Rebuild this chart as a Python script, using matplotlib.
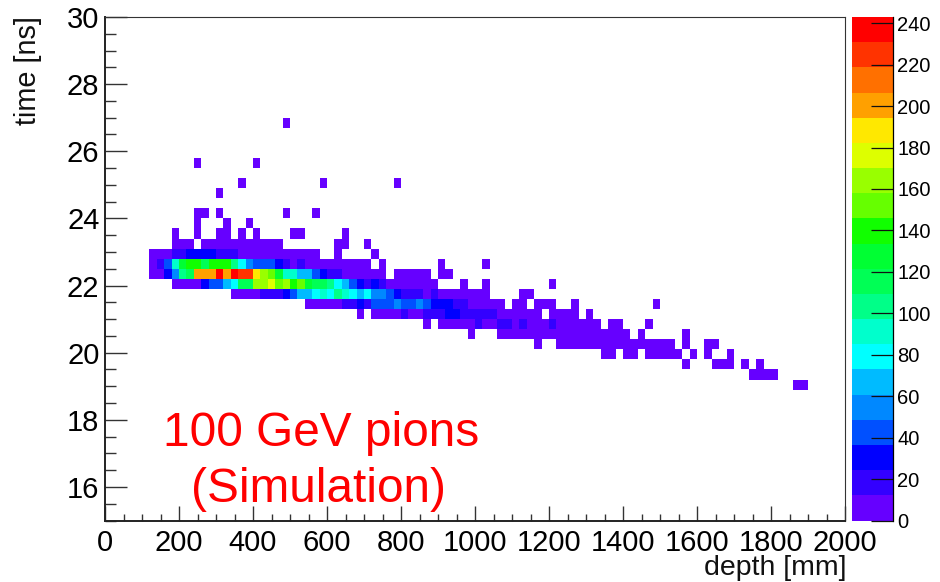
import matplotlib
matplotlib.use('Agg')
import matplotlib.pyplot as plt
from matplotlib.colors import BoundaryNorm, ListedColormap
from matplotlib.ticker import MultipleLocator
import numpy as np

plt.rcParams['font.family'] = ['Liberation Sans', 'DejaVu Sans']

# histogram binning: 100 depth bins, 50 time bins
depth_edges = np.linspace(0, 2000, 101)
time_edges = np.linspace(15, 30, 51)

# counts per time row, first entry sits in depth bin first_XX
first_13 = 93
row_13 = [6, 6]
first_14 = 87
row_14 = [6, 6, 6, 6]
first_15 = 78
row_15 = [6, 0, 0, 0, 6, 6, 6, 0, 6, 0, 6]
first_16 = 67
row_16 = [6, 6, 0, 6, 6, 0, 6, 6, 6, 6, 6, 0, 6, 0, 6, 0, 0, 6]
first_17 = 58
row_17 = [6, 0, 0] + [6] * 16 + [0, 6, 0, 0, 6, 6]
first_18 = 49
row_18 = [6, 0, 0, 0] + [6] * 18 + [0, 6, 0, 0, 0, 0, 0, 6]
first_19 = 43
row_19 = [6, 0, 6, 6, 6, 6, 6, 18, 6, 6, 18, 18, 6, 18, 6, 6, 6, 18,
          6, 6, 6, 6, 6, 6, 0, 6, 6, 0, 0, 0, 6]
first_20 = 34
row_20 = [6, 0, 6, 6, 6, 6, 18, 6, 6, 18, 18, 18, 30, 30, 18, 18, 18, 18, 18,
          6, 6, 6, 6, 6, 6, 0, 6, 6, 6, 6, 0, 6]
first_21 = 27
row_21 = [6, 6, 6, 6, 6, 18, 18, 30, 18, 42, 42, 42, 55, 42, 42, 55, 42, 30, 30, 30,
          18, 18, 6, 6, 6, 6, 6, 0, 6, 6, 0, 6, 6, 6, 0, 0, 6] + [0] * 10 + [6]
first_22 = 17
row_22 = [6, 6, 6, 6, 18, 18, 18, 30, 42, 67, 67, 79, 91, 79, 103, 91, 79, 67, 79,
          55, 55, 42, 30, 18, 18, 18, 6, 18] + [6] * 7 + [0, 0, 0, 0, 6, 6]
first_23 = 9
row_23 = [6, 6, 6, 6, 30, 42, 42, 67, 79, 115, 115, 164, 164, 176, 152, 164, 140, 152,
          127, 115, 115, 103, 79, 67, 42, 30, 18, 30, 18] + [6] * 7 + [0, 0, 0, 6, 0, 0, 6] + [0] * 8 + [6]
first_24 = 6
row_24 = [6, 6, 30, 55, 103, 115, 200, 200, 200, 237, 200, 237, 225, 225, 188, 164, 152, 127,
          91, 91, 67, 67, 42, 30, 18, 18] + [6] * 6 + [0] + [6] * 5 + [0, 6, 6]
first_25 = 6
row_25 = [6, 18, 42, 91, 127, 140, 140, 115, 140, 140, 140, 103, 79, 55, 42, 42, 42, 30, 18, 6, 18] \
    + [6] * 9 + [0, 6] + [0] * 7 + [6, 0, 0, 0, 0, 0, 6]
first_26 = 6
row_26 = [6, 6, 6, 18, 18, 30, 30, 30, 30, 18, 18, 18] + [6] * 11 + [0, 0, 6, 0, 0, 0, 0, 6]
first_27 = 9
row_27 = [6, 6, 6, 0] + [6] * 11 + [0] * 7 + [6, 6, 0, 0, 6]
first_28 = 9
row_28 = [6, 0, 0, 6, 0, 0, 6, 6, 0, 6, 0, 6, 0, 0, 0, 0, 6, 6, 0, 0, 0, 0, 0, 6]
first_29 = 12
row_29 = [6, 0, 0, 0, 6, 0, 0, 6]
first_30 = 12
row_30 = [6, 6, 0, 6] + [0] * 8 + [6, 0, 0, 0, 6]
first_32 = 15
row_32 = [6]
first_33 = 18
row_33 = [6] + [0] * 10 + [6] + [0] * 9 + [6]
first_35 = 12
row_35 = [6] + [0] * 7 + [6]
first_39 = 24
row_39 = [6]

# 20 contour levels of the z axis, bottom to top
z_max = 243
band_colors = ['#6600ff', '#3300ff', '#0000ff', '#0050ff', '#0088ff', '#00bbff', '#00ffff',
               '#00ffcc', '#00ff88', '#00ff55', '#00ff33', '#11ff00', '#66ff00', '#99ff00',
               '#ddff00', '#ffe800', '#ffa000', '#ff7000', '#ff3300', '#ff0000']
z_ticks = [0, 20, 40, 60, 80, 100, 120, 140, 160, 180, 200, 220, 240]

grid = np.zeros((50, 100))
rows = [(13, first_13, row_13), (14, first_14, row_14), (15, first_15, row_15), (16, first_16, row_16),
        (17, first_17, row_17), (18, first_18, row_18), (19, first_19, row_19), (20, first_20, row_20),
        (21, first_21, row_21), (22, first_22, row_22), (23, first_23, row_23), (24, first_24, row_24),
        (25, first_25, row_25), (26, first_26, row_26), (27, first_27, row_27), (28, first_28, row_28),
        (29, first_29, row_29), (30, first_30, row_30), (32, first_32, row_32), (33, first_33, row_33),
        (35, first_35, row_35), (39, first_39, row_39)]
for j, first, vals in rows:
    grid[j, first:first + len(vals)] = vals
grid = np.ma.masked_equal(grid, 0)

W, H = 940, 582
fig = plt.figure(figsize=(W / 100, H / 100), dpi=100)
ax = fig.add_axes([105 / W, (H - 520.5) / H, 740 / W, 503.5 / H])
cax = fig.add_axes([852 / W, (H - 520.5) / H, 41 / W, 503.5 / H])

cmap = ListedColormap(band_colors)
levels = np.linspace(0, z_max, 21)
norm = BoundaryNorm(levels, cmap.N)
mesh = ax.pcolormesh(depth_edges, time_edges, grid, cmap=cmap, norm=norm, antialiased=False, linewidth=0)

ax.set_xlim(0, 2000)
ax.set_ylim(15, 30)
ax.xaxis.set_major_locator(MultipleLocator(200))
ax.xaxis.set_minor_locator(MultipleLocator(50))
ax.yaxis.set_major_locator(MultipleLocator(2))
ax.yaxis.set_minor_locator(MultipleLocator(0.5))
ax.tick_params(axis='x', which='major', direction='in', length=10.8, width=1.0, color='#333333',
               labelsize=21, pad=6)
ax.tick_params(axis='x', which='minor', direction='in', length=5.4, width=1.0, color='#333333')
ax.tick_params(axis='y', which='major', direction='in', length=15.8, width=1.0, color='#333333',
               labelsize=21, pad=4)
ax.tick_params(axis='y', which='minor', direction='in', length=7.9, width=1.0, color='#333333')
for side in ['left', 'bottom']:
    ax.spines[side].set_linewidth(1.4)
    ax.spines[side].set_color('#222222')
for side in ['top', 'right']:
    ax.spines[side].set_linewidth(0.8)
    ax.spines[side].set_color('#333333')

fig.text(846 / W, 1 - 568 / H, 'depth [mm]', ha='right', va='center', fontsize=20.5, color='#111111')
fig.text(28 / W, 1 - 16 / H, 'time [ns]', ha='center', va='top', rotation=90, fontsize=20.8, color='#111111')

ax.text(321 / W, 1 - 433 / H, '100 GeV pions', transform=fig.transFigure, ha='center', va='center',
        fontsize=34.4, color='#ff0000')
ax.text(319 / W, 1 - 489 / H, '(Simulation)', transform=fig.transFigure, ha='center', va='center',
        fontsize=34.4, color='#ff0000')

cbar = fig.colorbar(mesh, cax=cax, spacing='proportional', ticks=z_ticks, drawedges=False)
cbar.outline.set_visible(False)
cbar.minorticks_off()
cax.spines['right'].set_visible(True)
cax.spines['right'].set_linewidth(0.9)
cax.tick_params(axis='y', which='major', direction='in', length=15.8, width=0.9, color='#111111',
                labelsize=14.5, pad=3)
cax.set_yticklabels([str(z) for z in z_ticks])

fig.savefig('out.png', dpi=100, facecolor='white')
